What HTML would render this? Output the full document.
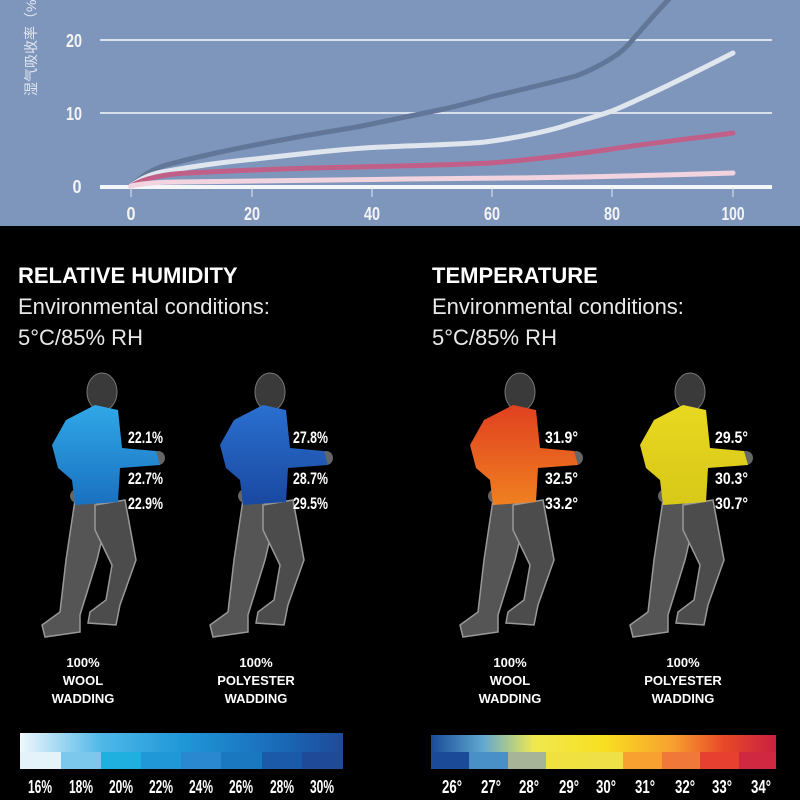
<!DOCTYPE html>
<html><head><meta charset="utf-8"><style>
html,body{margin:0;padding:0;background:#000;}
svg{display:block;}
.t{font-family:"Liberation Sans",sans-serif;fill:#fff;}
.n{font-family:"Liberation Sans",sans-serif;fill:#fff;font-weight:bold;}
</style></head><body>
<svg width="800" height="800" viewBox="0 0 800 800" xmlns="http://www.w3.org/2000/svg">
<defs>
<linearGradient id="gb1" x1="0" y1="0" x2="0" y2="1"><stop offset="0" stop-color="#30a8e8"/><stop offset="1" stop-color="#1a70c0"/></linearGradient>
<linearGradient id="gb2" x1="0" y1="0" x2="0" y2="1"><stop offset="0" stop-color="#2a70d0"/><stop offset="1" stop-color="#1a48a0"/></linearGradient>
<linearGradient id="go" x1="0" y1="0" x2="0" y2="1"><stop offset="0" stop-color="#e04020"/><stop offset="1" stop-color="#f08020"/></linearGradient>
<linearGradient id="gy" x1="0" y1="0" x2="0" y2="1"><stop offset="0" stop-color="#e8d820"/><stop offset="1" stop-color="#d8c818"/></linearGradient>
<linearGradient id="hb" x1="0" y1="0" x2="1" y2="0"><stop offset="0" stop-color="#f0f8fc"/><stop offset="0.25" stop-color="#50b8e8"/><stop offset="0.5" stop-color="#2098d8"/><stop offset="0.8" stop-color="#1a6ab8"/><stop offset="1" stop-color="#1e4a98"/></linearGradient>
<linearGradient id="tb" x1="0" y1="0" x2="1" y2="0"><stop offset="0" stop-color="#1a4a98"/><stop offset="0.15" stop-color="#60a8d0"/><stop offset="0.3" stop-color="#f0e850"/><stop offset="0.5" stop-color="#f8e020"/><stop offset="0.7" stop-color="#f8a030"/><stop offset="0.85" stop-color="#e84828"/><stop offset="1" stop-color="#c82040"/></linearGradient>
<g id="body">
<path d="M75,500 L110,505 L97,560 L80,615 L80,632 L45,637 L42,625 L60,612 L66,560 Z" fill="#555" stroke="#999" stroke-width="1.5"/>
<path d="M95,505 L125,500 L136,560 L120,605 L116,625 L88,623 L90,612 L106,600 L112,565 L95,530 Z" fill="#4c4c4c" stroke="#999" stroke-width="1.5"/>
<ellipse cx="102" cy="392" rx="15" ry="19" fill="#3a3a3a" stroke="#777"/>
<rect x="95" y="402" width="14" height="10" fill="#3a3a3a"/>
<ellipse cx="80" cy="496" rx="10" ry="8" fill="#666"/>
<ellipse cx="158" cy="458" rx="7" ry="7" fill="#666"/>
</g>
<path id="jk" d="M95,405 L118,410 L122,448 L156,451 L160,465 L120,468 L118,502 L75,505 L72,480 L58,468 L52,445 L66,420 Z"/>
</defs>
<rect x="0" y="0" width="800" height="226" fill="#7f96bc"/>
<line x1="100" y1="40" x2="772" y2="40" stroke="#d8e0ec" stroke-width="2"/>
<line x1="100" y1="113" x2="772" y2="113" stroke="#d8e0ec" stroke-width="2"/>
<line x1="100" y1="187" x2="772" y2="187" stroke="#f4f6fa" stroke-width="4"/>
<g stroke="#e0e6f0" stroke-width="1"><line x1="131" y1="187" x2="131" y2="197"/><line x1="252" y1="187" x2="252" y2="197"/><line x1="372" y1="187" x2="372" y2="197"/><line x1="492" y1="187" x2="492" y2="197"/><line x1="612" y1="187" x2="612" y2="197"/><line x1="733" y1="187" x2="733" y2="197"/></g>
<g class="n" font-size="18" text-anchor="middle" style="fill:#f4f4f4">
<text x="131" y="220" textLength="9" lengthAdjust="spacingAndGlyphs">0</text><text x="252" y="220" textLength="16" lengthAdjust="spacingAndGlyphs">20</text><text x="372" y="220" textLength="16" lengthAdjust="spacingAndGlyphs">40</text><text x="492" y="220" textLength="16" lengthAdjust="spacingAndGlyphs">60</text><text x="612" y="220" textLength="16" lengthAdjust="spacingAndGlyphs">80</text><text x="733" y="220" textLength="23" lengthAdjust="spacingAndGlyphs">100</text>
<text x="74" y="47" textLength="16" lengthAdjust="spacingAndGlyphs">20</text><text x="74" y="120" textLength="16" lengthAdjust="spacingAndGlyphs">10</text><text x="77" y="193" textLength="9" lengthAdjust="spacingAndGlyphs">0</text>
</g>
<text transform="translate(36,96) rotate(-90)" font-family="'Liberation Sans','Noto Sans CJK SC',sans-serif" font-size="14" fill="#dfe6f0">湿气吸收率（%</text>
<g fill="none" stroke-linecap="round" stroke-linejoin="round" stroke-width="5">
<path d="M131,186 C140,178 150,170 166,165 C200,156 225,151 255,145 C290,138 320,133 357,127 C390,120 420,114 444,109 C465,104 478,101 490,97 C520,90 550,83 576,76 C592,70 602,64 612,58 C622,52 628,46 634,38 C650,20 660,8 673,-5" stroke="#627698"/>
<path d="M131,186 C140,179 152,173 168,171 C195,166 225,162 255,159 C300,154 340,149 383,147 C420,145 455,145 485,142 C515,138 540,133 561,127 C580,121 598,116 612,111 C650,95 690,75 733,53" stroke="#dfe6ee"/>
<path d="M131,186 C145,178 165,174 189,173 C250,170 300,168 357,167 C400,166 450,165 490,163 C530,160 570,155 612,149 C650,143 690,139 733,133" stroke="#c06088"/>
<path d="M131,186 C145,183 160,182 179,182 C300,180 400,179 510,178 C600,177 670,175 733,173" stroke="#f2d4e0"/>
</g>
<rect x="0" y="226" width="800" height="574" fill="#000"/>
<g class="t">
<text x="18" y="283" font-size="22" font-weight="bold">RELATIVE HUMIDITY</text>
<text x="18" y="314" font-size="22" style="fill:#e8e8e8">Environmental conditions:</text>
<text x="18" y="345" font-size="22" style="fill:#e8e8e8">5°C/85% RH</text>
<text x="432" y="283" font-size="22" font-weight="bold">TEMPERATURE</text>
<text x="432" y="314" font-size="22" style="fill:#e8e8e8">Environmental conditions:</text>
<text x="432" y="345" font-size="22" style="fill:#e8e8e8">5°C/85% RH</text>
</g>
<g><use href="#body"/><use href="#jk" fill="url(#gb1)"/></g>
<g transform="translate(168,0)"><use href="#body"/><use href="#jk" fill="url(#gb2)"/></g>
<g transform="translate(418,0)"><use href="#body"/><use href="#jk" fill="url(#go)"/></g>
<g transform="translate(588,0)"><use href="#body"/><use href="#jk" fill="url(#gy)"/></g>
<g class="n" font-size="17" font-weight="normal">
<text x="128" y="443" textLength="35" lengthAdjust="spacingAndGlyphs">22.1%</text><text x="128" y="484" textLength="35" lengthAdjust="spacingAndGlyphs">22.7%</text><text x="128" y="509" textLength="35" lengthAdjust="spacingAndGlyphs">22.9%</text>
<text x="293" y="443" textLength="35" lengthAdjust="spacingAndGlyphs">27.8%</text><text x="293" y="484" textLength="35" lengthAdjust="spacingAndGlyphs">28.7%</text><text x="293" y="509" textLength="35" lengthAdjust="spacingAndGlyphs">29.5%</text>
<text x="545" y="443" textLength="33" lengthAdjust="spacingAndGlyphs">31.9°</text><text x="545" y="484" textLength="33" lengthAdjust="spacingAndGlyphs">32.5°</text><text x="545" y="509" textLength="33" lengthAdjust="spacingAndGlyphs">33.2°</text>
<text x="715" y="443" textLength="33" lengthAdjust="spacingAndGlyphs">29.5°</text><text x="715" y="484" textLength="33" lengthAdjust="spacingAndGlyphs">30.3°</text><text x="715" y="509" textLength="33" lengthAdjust="spacingAndGlyphs">30.7°</text>
</g>
<g class="t" font-size="13" font-weight="bold" text-anchor="middle">
<text x="83" y="667">100%</text><text x="83" y="685">WOOL</text><text x="83" y="703">WADDING</text>
<text x="256" y="667">100%</text><text x="256" y="685">POLYESTER</text><text x="256" y="703">WADDING</text>
<text x="510" y="667">100%</text><text x="510" y="685">WOOL</text><text x="510" y="703">WADDING</text>
<text x="683" y="667">100%</text><text x="683" y="685">POLYESTER</text><text x="683" y="703">WADDING</text>
</g>
<rect x="20" y="733" width="323" height="36" fill="url(#hb)"/>
<g>
<rect x="20" y="752" width="41" height="17" fill="#e4f2fa"/><rect x="61" y="752" width="40" height="17" fill="#7cc8ec"/><rect x="101" y="752" width="40" height="17" fill="#20b0e0"/><rect x="141" y="752" width="40" height="17" fill="#2098d8"/><rect x="181" y="752" width="40" height="17" fill="#2a88d0"/><rect x="221" y="752" width="41" height="17" fill="#1a78c0"/><rect x="262" y="752" width="40" height="17" fill="#1a5aa8"/><rect x="302" y="752" width="41" height="17" fill="#1e4a98"/>
</g>
<rect x="431" y="735" width="345" height="34" fill="url(#tb)"/>
<g>
<rect x="431" y="752" width="38" height="17" fill="#1a4a98"/><rect x="469" y="752" width="39" height="17" fill="#4a90c8"/><rect x="508" y="752" width="38" height="17" fill="#a8b498"/><rect x="546" y="752" width="39" height="17" fill="#f0e040"/><rect x="585" y="752" width="38" height="17" fill="#f0e048"/><rect x="623" y="752" width="39" height="17" fill="#f8a030"/><rect x="662" y="752" width="38" height="17" fill="#f07838"/><rect x="700" y="752" width="39" height="17" fill="#e84030"/><rect x="739" y="752" width="37" height="17" fill="#d02840"/>
</g>
<g class="n" font-size="18" text-anchor="middle" font-weight="normal">
<text x="40" y="793" textLength="24" lengthAdjust="spacingAndGlyphs">16%</text><text x="81" y="793" textLength="24" lengthAdjust="spacingAndGlyphs">18%</text><text x="121" y="793" textLength="24" lengthAdjust="spacingAndGlyphs">20%</text><text x="161" y="793" textLength="24" lengthAdjust="spacingAndGlyphs">22%</text><text x="201" y="793" textLength="24" lengthAdjust="spacingAndGlyphs">24%</text><text x="241" y="793" textLength="24" lengthAdjust="spacingAndGlyphs">26%</text><text x="282" y="793" textLength="24" lengthAdjust="spacingAndGlyphs">28%</text><text x="322" y="793" textLength="24" lengthAdjust="spacingAndGlyphs">30%</text>
<text x="452" y="793" textLength="20" lengthAdjust="spacingAndGlyphs">26°</text><text x="491" y="793" textLength="20" lengthAdjust="spacingAndGlyphs">27°</text><text x="529" y="793" textLength="20" lengthAdjust="spacingAndGlyphs">28°</text><text x="569" y="793" textLength="20" lengthAdjust="spacingAndGlyphs">29°</text><text x="606" y="793" textLength="20" lengthAdjust="spacingAndGlyphs">30°</text><text x="645" y="793" textLength="20" lengthAdjust="spacingAndGlyphs">31°</text><text x="685" y="793" textLength="20" lengthAdjust="spacingAndGlyphs">32°</text><text x="722" y="793" textLength="20" lengthAdjust="spacingAndGlyphs">33°</text><text x="761" y="793" textLength="20" lengthAdjust="spacingAndGlyphs">34°</text>
</g>
</svg>
</body></html>
